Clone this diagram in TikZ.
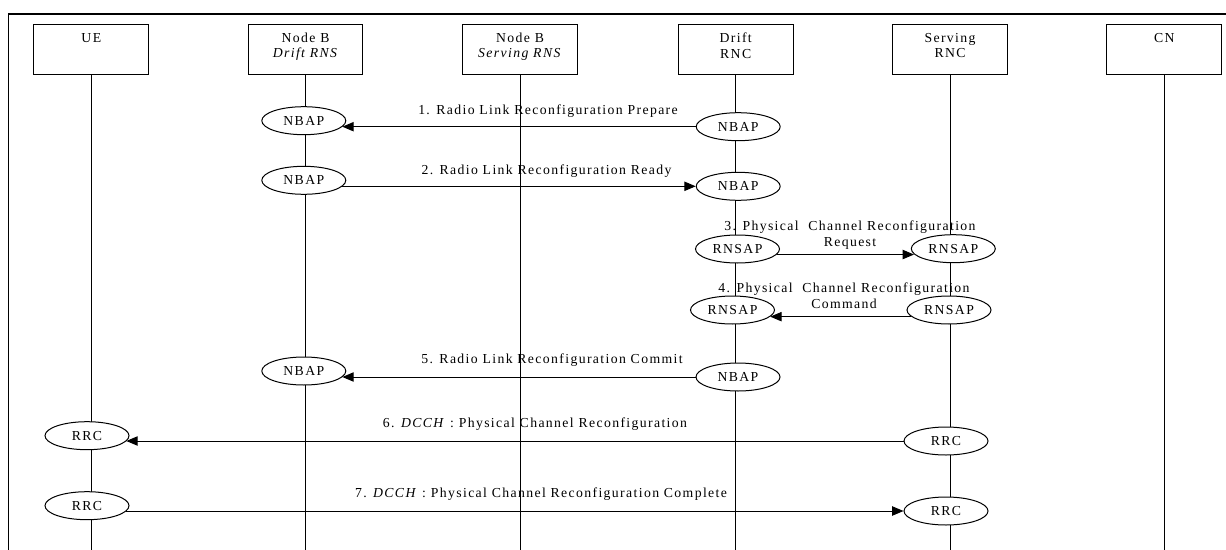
\documentclass[tikz,border=0pt]{standalone}
\usepackage{fontspec}
\setmainfont{Liberation Serif}[LetterSpace=10]
\usetikzlibrary{shapes.geometric}
\usetikzlibrary{arrows.meta}

\tikzset{
  entity/.style={draw,line width=0.75pt,minimum width=86pt,minimum height=37.5pt,anchor=north,inner sep=0pt},
  entitytext/.style={anchor=north,align=center,inner sep=0pt,font=\fontsize{10.3}{11.3}\selectfont},
  proto/.style={ellipse,draw,line width=0.75pt,fill=white,minimum width=63pt,minimum height=21pt,inner sep=0pt,font=\fontsize{10.3}{11}\selectfont},
  msg/.style={line width=0.75pt,-{Triangle[length=8.5pt,width=7pt]}},
  msgtext/.style={align=center,inner sep=0pt,font=\fontsize{10.3}{12}\selectfont},
  life/.style={line width=0.75pt}
}

\begin{document}
\begin{tikzpicture}[x=0.75pt,y=-0.75pt]
\clip (0,0) rectangle (1226,549);
% outer frame, open at right and bottom
\draw[line width=1.1pt] (8.3,14) rectangle (1300,600);
\coordinate (bot) at (0,560);

\node[entity] (ue) at (91.3,23.7) {};
\node[entity] (nbd) at (305.6,23.7) {};
\node[entity] (nbs) at (520,23.7) {};
\node[entity] (drnc) at (735.7,23.7) {};
\node[entity] (srnc) at (950,23.7) {};
\node[entity] (cn) at (1164.3,23.7) {};
\node[entitytext] (ue-t) at ([yshift=-7pt]ue.north) {UE};
\node[entitytext] (nbd-t) at ([yshift=-7pt]nbd.north) {Node B\\\textit{Drift RNS}};
\node[entitytext] (nbs-t) at ([yshift=-7pt]nbs.north) {Node B\\\textit{Serving RNS}};
\node[entitytext] (drnc-t) at ([yshift=-7pt]drnc.north) {Drift\\RNC};
\node[entitytext] (srnc-t) at ([yshift=-7pt]srnc.north) {Serving\\RNC};
\node[entitytext] (cn-t) at ([yshift=-7pt]cn.north) {CN};

\foreach \n in {ue,nbd,nbs,drnc,srnc,cn}
  \draw[life] (\n.south) -- (\n.south |- bot);

\node[proto] (nbap1a) at (303.8,120.7) {NBAP};
\node[proto] (nbap1b) at (738.2,126.7) {NBAP};
\node[proto] (nbap2a) at (303.8,180.3) {NBAP};
\node[proto] (nbap2b) at (738.2,186.3) {NBAP};
\node[proto] (rnsap3a) at (737.5,249) {RNSAP};
\node[proto] (rnsap3b) at (953.3,248.7) {RNSAP};
\node[proto] (rnsap4a) at (732.5,310) {RNSAP};
\node[proto] (rnsap4b) at (949,310) {RNSAP};
\node[proto] (nbap5a) at (303.8,371) {NBAP};
\node[proto] (nbap5b) at (738,377) {NBAP};
\node[proto] (rrc6a) at (87,435.7) {RRC};
\node[proto] (rrc6b) at (946,441) {RRC};
\node[proto] (rrc7a) at (87,505.7) {RRC};
\node[proto] (rrc7b) at (946,511) {RRC};

\draw[msg] (nbap1b.west) -- (nbap1b.west -| nbap1a.-9);
\draw[msg] (nbap2b.west -| nbap2a.-10) -- (nbap2b.west);
\draw[msg] (rnsap3a.-8) -- (rnsap3a.-8 -| rnsap3b.188);
\draw[msg] (rnsap4b.190) -- (rnsap4b.190 -| rnsap4a.-10);
\draw[msg] (nbap5b.west) -- (nbap5b.west -| nbap5a.-9);
\draw[msg] (rrc6b.west) -- (rrc6b.west -| rrc6a.-8);
\draw[msg] (rrc7b.west -| rrc7a.-8) -- (rrc7b.west);

\node[msgtext] (m1) at (548,111) {1. Radio Link Reconfiguration Prepare};
\node[msgtext] (m2) at (546.5,171) {2. Radio Link Reconfiguration Ready};
\node[msgtext] (m3) at (850,235.3) {3. Physical~~Channel Reconfiguration\\Request};
\node[msgtext] (m4) at (844,295.8) {4. Physical~~Channel Reconfiguration\\Command};
\node[msgtext] (m5) at (552,360) {5. Radio Link Reconfiguration Commit};
\node[msgtext] (m6) at (535,424.5) {6. \textit{DCCH} : Physical Channel Reconfiguration};
\node[msgtext] (m7) at (541,494.5) {7. \textit{DCCH} : Physical Channel Reconfiguration Complete};

\end{tikzpicture}
\end{document}
